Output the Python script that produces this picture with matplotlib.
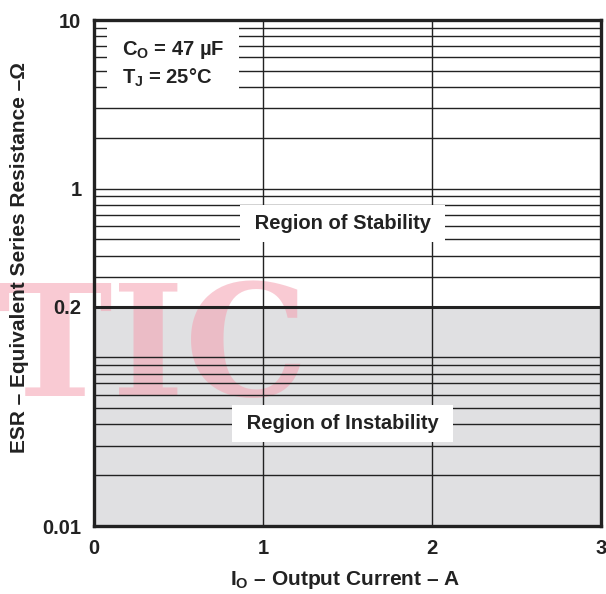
import numpy as np
import matplotlib
matplotlib.use('Agg')
import matplotlib.pyplot as plt
from matplotlib.ticker import FixedLocator, FixedFormatter, LogLocator, NullFormatter

# data
current_ticks = [0, 1, 2, 3]
current_labels = ['0', '1', '2', '3']
esr_ticks = [0.01, 0.2, 1, 10]
esr_labels = ['0.01', '0.2', '1', '10']
current_range = [0, 3]
esr_range = [0.01, 10]
esr_boundary = 0.2        # below this: region of instability
c_out = 47                # uF
t_junction = 25           # degC

plt.rcParams['font.family'] = ['Liberation Sans', 'DejaVu Sans']
plt.rcParams['font.weight'] = 'bold'
plt.rcParams['axes.labelweight'] = 'bold'
plt.rcParams['mathtext.fontset'] = 'custom'
plt.rcParams['mathtext.rm'] = 'Liberation Sans:bold'
plt.rcParams['mathtext.it'] = 'Liberation Sans:bold'
plt.rcParams['mathtext.bf'] = 'Liberation Sans:bold'

dark = '#222222'

fig = plt.figure(figsize=(6.06, 5.94), dpi=100)
ax = fig.add_axes([94 / 606, 68 / 594, 507 / 606, 506 / 594])

ax.set_xlim(current_range)
ax.set_yscale('log')
ax.set_ylim(esr_range)

ax.xaxis.set_major_locator(FixedLocator(current_ticks))
ax.xaxis.set_major_formatter(FixedFormatter(current_labels))
ax.yaxis.set_major_locator(FixedLocator(esr_ticks))
ax.yaxis.set_major_formatter(FixedFormatter(esr_labels))
ax.yaxis.set_minor_locator(LogLocator(base=10, subs=np.arange(1, 10), numticks=20))
ax.yaxis.set_minor_formatter(NullFormatter())

ax.grid(which='major', axis='both', color=dark, lw=1.0)
ax.grid(which='minor', axis='y', color=dark, lw=1.0)
ax.tick_params(which='both', length=0)
ax.tick_params(axis='y', pad=9, labelsize=14.5, colors=dark)
ax.tick_params(axis='x', pad=9, labelsize=14.5, colors=dark)

# shaded region of instability and its boundary
ax.axhspan(esr_range[0], esr_boundary, color='#e0e0e2', zorder=0.5, lw=0)
ax.axhline(esr_boundary, color=dark, lw=2.2, zorder=1.6)

for s in ax.spines.values():
    s.set_linewidth(2.4)
    s.set_color(dark)
    s.set_zorder(4)

ax.set_xlabel('I$_\\mathrm{O}$ \u2013 Output Current \u2013 A', fontsize=15, color=dark)
ax.xaxis.set_label_coords(0.495, -0.085)
ax.set_ylabel('ESR \u2013 Equivalent Series Resistance \u2013\u03a9', fontsize=15, color=dark)
ax.yaxis.set_label_coords(-0.128, 0.53)

box = dict(boxstyle='square,pad=0.45', fc='white', ec='none')
ax.text(0.49, 0.598, ' Region of Stability ', transform=ax.transAxes,
        ha='center', va='center', fontsize=14.5, color=dark, bbox=box, zorder=3)
ax.text(0.49, 0.203, ' Region of Instability ', transform=ax.transAxes,
        ha='center', va='center', fontsize=14.5, color=dark, bbox=box, zorder=3)
ax.text(0.055, 0.913,
        'C$_\\mathrm{O}$ = %d \u00b5F\nT$_\\mathrm{J}$ = %d\u00b0C' % (c_out, t_junction),
        transform=ax.transAxes, ha='left', va='center', fontsize=14.5, color=dark,
        linespacing=1.3, bbox=dict(boxstyle='square,pad=0.75', fc='white', ec='none'), zorder=3)

# watermark, under the grid and labels
ax.text(-4 / 606, 1 - 396 / 594, 'TIC', transform=fig.transFigure, family='DejaVu Serif',
        fontweight='bold', fontsize=112, color='#f5a0b0', alpha=0.55,
        ha='left', va='baseline', zorder=1.2, clip_on=False)

fig.savefig('out.png', dpi=100)
